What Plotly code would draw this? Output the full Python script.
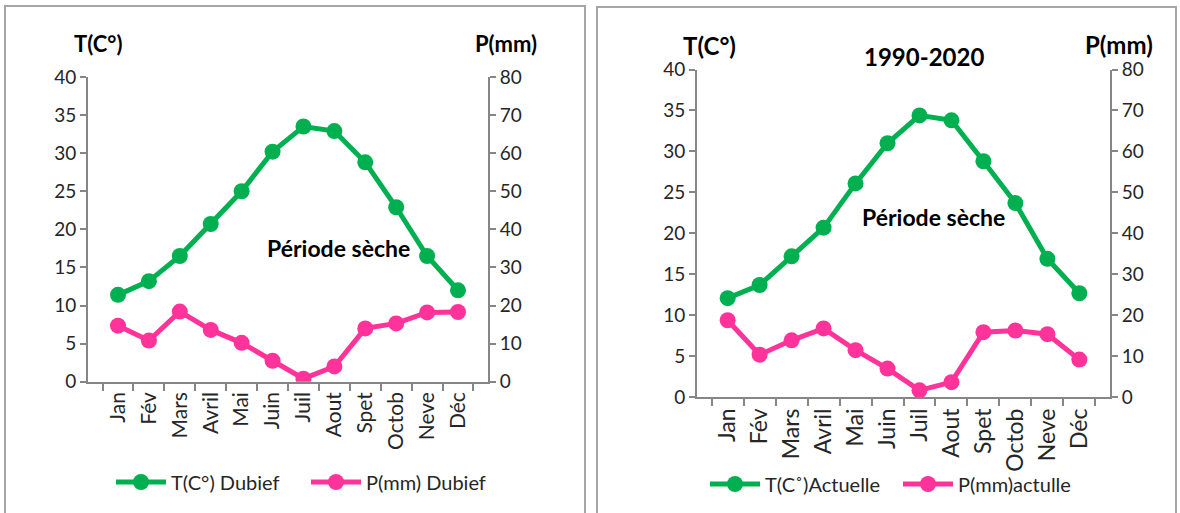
import plotly.graph_objects as go

# Mois
mois = ["Jan", "Fév", "Mars", "Avril", "Mai", "Juin", "Juil", "Aout", "Spet", "Octob", "Neve", "Déc"]

# Dubief
t_dubief = [11.4, 13.2, 16.5, 20.7, 25.0, 30.2, 33.5, 32.9, 28.8, 22.9, 16.5, 12.0]
p_dubief = [14.7, 10.8, 18.4, 13.6, 10.2, 5.5, 0.8, 4.0, 14.0, 15.3, 18.2, 18.3]

# 1990-2020
t_actuelle = [12.1, 13.7, 17.2, 20.7, 26.1, 31.0, 34.4, 33.8, 28.8, 23.7, 16.9, 12.7]
p_actulle = [18.8, 10.4, 13.9, 16.8, 11.5, 7.0, 1.7, 3.7, 15.9, 16.3, 15.4, 9.2]

W, H = 1180, 513
GREEN = "#00B050"
PINK = "#FF3399"
GRAY = "#868686"
TXT = "#262626"
FONT = "Lato"

def px_x(v):
    return v / W

def px_y(v):
    return (H - v) / H

fig = go.Figure()

def serie(x, y, nom, couleur, xa, ya, leg):
    fig.add_trace(go.Scatter(x=x, y=y, name=nom, mode="lines+markers",
                             line=dict(color=couleur, width=5),
                             marker=dict(size=16, color=couleur),
                             xaxis=xa, yaxis=ya, legend=leg))

serie(mois, t_dubief, "T(C°) Dubief", GREEN, "x", "y", "legend")
serie(mois, p_dubief, "P(mm) Dubief", PINK, "x", "y2", "legend")
serie(mois, t_actuelle, "T(C˚)Actuelle", GREEN, "x2", "y3", "legend2")
serie(mois, p_actulle, "P(mm)actulle", PINK, "x2", "y4", "legend2")

def xax(dom, anchor, size):
    return dict(domain=dom, anchor=anchor, type="category", showline=True, linecolor=GRAY,
                linewidth=2, ticks="outside", tickson="boundaries", ticklen=7, tickcolor=GRAY,
                tickwidth=2, tickangle=-90, showgrid=False, zeroline=False, automargin=False,
                tickfont=dict(size=size, color=TXT))

yc = dict(showline=True, linecolor=GRAY, linewidth=2, ticks="outside", ticklen=6,
          tickcolor=GRAY, tickwidth=2, showgrid=False, zeroline=False, automargin=False,
          tickfont=dict(size=19, color=TXT))

def texte(t, x, y, size):
    return dict(text=t, x=px_x(x), y=px_y(y), xref="paper", yref="paper", showarrow=False,
                xanchor="center", yanchor="middle", font=dict(size=size, color="black"))

def cadre(x0, x1, top):
    return dict(type="path", xref="paper", yref="paper",
                path=f"M {px_x(x0)} 0 L {px_x(x0)} {px_y(top)} L {px_x(x1)} {px_y(top)} L {px_x(x1)} 0",
                line=dict(color="#A6A6A6", width=2))

fig.update_layout(
    width=W, height=H,
    margin=dict(l=0, r=0, t=0, b=0, autoexpand=False),
    paper_bgcolor="white", plot_bgcolor="white",
    font=dict(family=FONT, color="black"),
    xaxis=xax([px_x(88), px_x(488)], "y", 21),
    yaxis=dict(domain=[px_y(381.7), px_y(77)], range=[0, 40], dtick=5, anchor="x", **yc),
    yaxis2=dict(range=[0, 80], dtick=10, overlaying="y", side="right", anchor="x", **yc),
    xaxis2=xax([px_x(697), px_x(1110)], "y3", 23),
    yaxis3=dict(domain=[px_y(397.3), px_y(69.5)], range=[0, 40], dtick=5, anchor="x2", **yc),
    yaxis4=dict(range=[0, 80], dtick=10, overlaying="y3", side="right", anchor="x2", **yc),
    legend=dict(orientation="h", x=px_x(111), y=px_y(482), xanchor="left", yanchor="middle",
                font=dict(size=20, color=TXT), itemwidth=50, entrywidth=130,
                bgcolor="rgba(0,0,0,0)"),
    legend2=dict(orientation="h", x=px_x(705), y=px_y(484), xanchor="left", yanchor="middle",
                 font=dict(size=20, color=TXT), itemwidth=50, entrywidth=128,
                 bgcolor="rgba(0,0,0,0)"),
    shapes=[cadre(5, 585, 6), cadre(597, 1176, 7)],
    annotations=[
        texte("<b>T(C°)</b>", 98, 43, 22),
        texte("<b>P(mm)</b>", 506, 43, 22),
        texte("<b>Période sèche</b>", 338, 248, 23),
        texte("<b>T(C°)</b>", 709, 45, 24),
        texte("<b>1990-2020</b>", 924, 56, 24),
        texte("<b>P(mm)</b>", 1119, 44, 24),
        texte("<b>Période sèche</b>", 933, 217, 23),
    ],
)

fig.write_html("out.html", config={"displayModeBar": False},
               post_script="document.body.style.margin='0';")
